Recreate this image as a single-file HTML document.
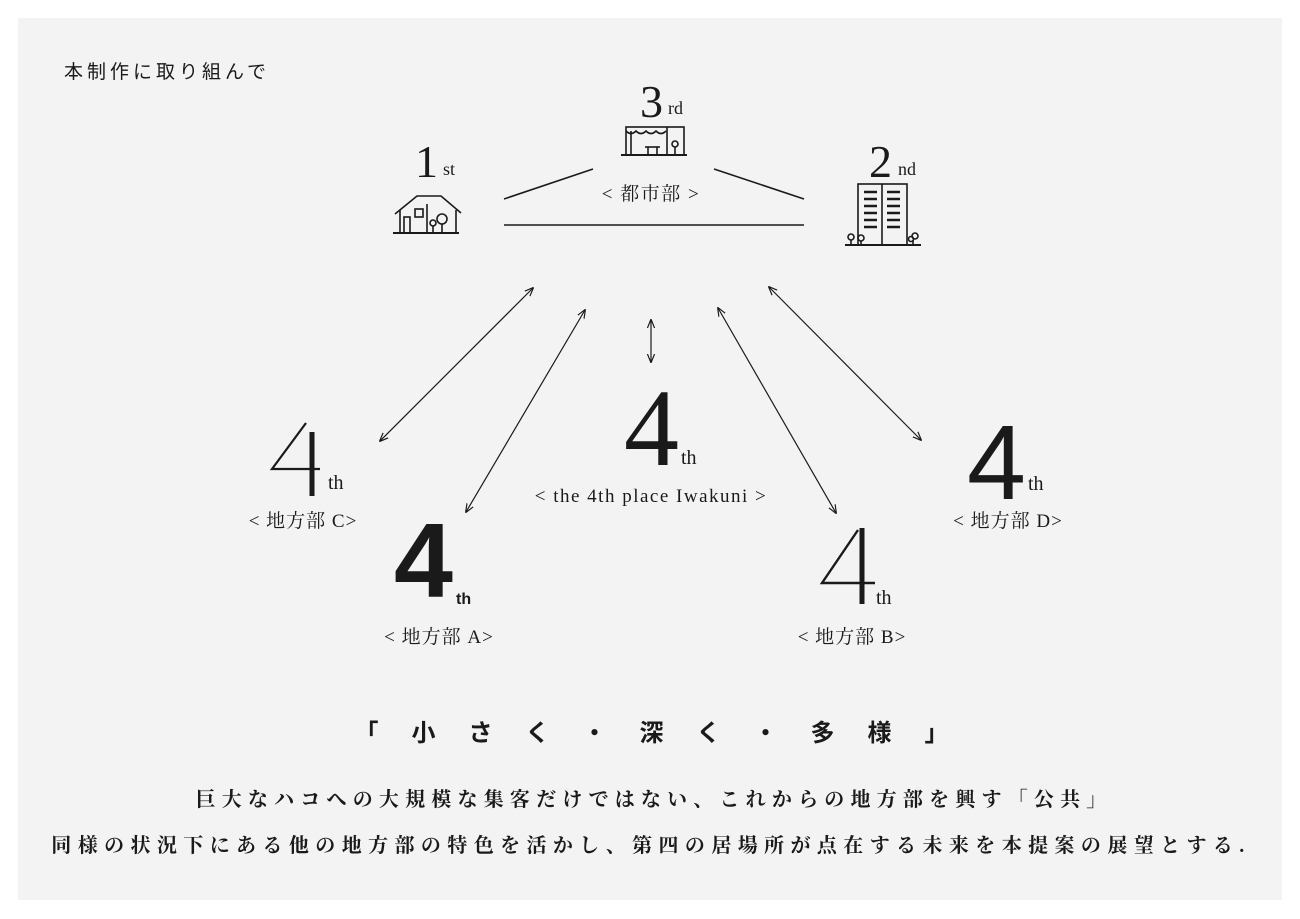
<!DOCTYPE html>
<html><head><meta charset="utf-8">
<style>
html,body{margin:0;padding:0;background:#fff;}
svg{display:block}
.s{font-family:"Liberation Serif","Noto Serif CJK JP",serif;fill:#1a1a1a}
.g{font-family:"Liberation Sans","Noto Sans CJK JP",sans-serif;fill:#1a1a1a}
</style></head><body>
<svg width="1300" height="919" viewBox="0 0 1300 919" xmlns="http://www.w3.org/2000/svg">
<defs>
<marker id="a" viewBox="0 0 10 10" refX="9" refY="5" markerWidth="9" markerHeight="9" orient="auto-start-reverse" markerUnits="userSpaceOnUse">
<path d="M0,1 L10,5 L0,9" fill="none" stroke="#1a1a1a" stroke-width="1.3"/>
</marker>
</defs>
<rect x="0" y="0" width="1300" height="919" fill="#fff"/>
<rect x="18" y="18" width="1264" height="882" fill="#f3f3f3"/>

<text x="64" y="78" class="g" font-size="19" letter-spacing="4">本制作に取り組んで</text>

<!-- top numbers -->
<text x="640" y="117" class="s" font-size="46">3</text>
<text x="668" y="114" class="s" font-size="18">rd</text>
<text x="415" y="177" class="s" font-size="46">1</text>
<text x="443" y="175" class="s" font-size="18">st</text>
<text x="869" y="177" class="s" font-size="46">2</text>
<text x="898" y="175" class="s" font-size="18">nd</text>

<!-- shop icon -->
<g fill="none" stroke="#1a1a1a" stroke-width="1.6">
<rect x="626" y="127" width="58" height="28"/>
<line x1="621" y1="155" x2="687" y2="155" stroke-width="2"/>
<path d="M626,131 q5,5 10,0 q5,5 10,0 q5,5 10,0 q5,5 10,0"/>
<line x1="631" y1="131" x2="631" y2="155"/><line x1="667" y1="127" x2="667" y2="155"/>
<line x1="645" y1="147" x2="660" y2="147"/><line x1="648" y1="147" x2="648" y2="155"/><line x1="657" y1="147" x2="657" y2="155"/>
<circle cx="675" cy="144" r="3"/><line x1="675" y1="147" x2="675" y2="155"/>
</g>
<!-- house icon -->
<g fill="none" stroke="#1a1a1a" stroke-width="1.6">
<path d="M395,214 L417,196 L441,196 L461,213"/>
<path d="M400,210 L400,233 M456,210 L456,233"/>
<line x1="393" y1="233" x2="459" y2="233" stroke-width="2"/>
<rect x="404" y="217" width="6" height="16"/>
<rect x="415" y="209" width="8" height="8"/>
<circle cx="442" cy="219" r="5"/><line x1="442" y1="224" x2="442" y2="233"/>
<circle cx="433" cy="223" r="3"/><line x1="433" y1="226" x2="433" y2="233"/>
<line x1="427" y1="204" x2="427" y2="233"/>
</g>
<!-- building icon -->
<g fill="none" stroke="#1a1a1a" stroke-width="1.6">
<rect x="858" y="184" width="49" height="61"/>
<line x1="882" y1="184" x2="882" y2="245"/>
<line x1="845" y1="245" x2="921" y2="245" stroke-width="2"/>
<circle cx="851" cy="237" r="3"/><line x1="851" y1="240" x2="851" y2="245"/>
<circle cx="861" cy="238" r="3"/><line x1="861" y1="241" x2="861" y2="245"/>
<circle cx="915" cy="236" r="3"/><circle cx="911" cy="239" r="2.5"/><line x1="913" y1="240" x2="913" y2="245"/>
</g>
<g stroke="#1a1a1a" stroke-width="2.5">
<line x1="864" y1="192" x2="877" y2="192"/><line x1="887" y1="192" x2="900" y2="192"/>
<line x1="864" y1="199" x2="877" y2="199"/><line x1="887" y1="199" x2="900" y2="199"/>
<line x1="864" y1="206" x2="877" y2="206"/><line x1="887" y1="206" x2="900" y2="206"/>
<line x1="864" y1="213" x2="877" y2="213"/><line x1="887" y1="213" x2="900" y2="213"/>
<line x1="864" y1="220" x2="877" y2="220"/><line x1="887" y1="220" x2="900" y2="220"/>
<line x1="864" y1="227" x2="877" y2="227"/><line x1="887" y1="227" x2="900" y2="227"/>
</g>

<!-- connecting lines -->
<g stroke="#1a1a1a" stroke-width="1.6">
<line x1="504" y1="199" x2="593" y2="169"/>
<line x1="714" y1="169" x2="804" y2="199"/>
<line x1="504" y1="225" x2="804" y2="225"/>
</g>
<text x="651" y="200" class="s" font-size="19" letter-spacing="1.5" text-anchor="middle">&lt; 都市部 &gt;</text>

<!-- arrows -->
<g stroke="#1a1a1a" stroke-width="1.2" marker-start="url(#a)" marker-end="url(#a)">
<line x1="533" y1="288" x2="380" y2="441"/>
<line x1="585" y1="310" x2="466" y2="512"/>
<line x1="651" y1="320" x2="651" y2="362"/>
<line x1="718" y1="308" x2="836" y2="513"/>
<line x1="769" y1="287" x2="921" y2="440"/>
</g>

<!-- center 4th -->
<text x="624" y="465" class="s" font-size="110">4</text>
<text x="681" y="464" class="s" font-size="20">th</text>
<text x="651" y="502" class="s" font-size="19" letter-spacing="1.5" text-anchor="middle">&lt; the 4th place Iwakuni &gt;</text>

<!-- C: thin geometric 4 -->
<path d="M306,423 L272,469 L320,469" fill="none" stroke="#1a1a1a" stroke-width="2.2"/>
<line x1="312" y1="432" x2="312" y2="496" stroke="#1a1a1a" stroke-width="5"/>
<text x="328" y="489" class="s" font-size="20">th</text>
<text x="303" y="527" class="s" font-size="19" letter-spacing="1" text-anchor="middle">&lt; 地方部 C&gt;</text>

<!-- A: bold 4 -->
<text x="394" y="597" class="g" font-size="106" font-weight="bold">4</text>
<text x="456" y="604" class="g" font-size="16" font-weight="bold">th</text>
<text x="439" y="643" class="s" font-size="19" letter-spacing="1" text-anchor="middle">&lt; 地方部 A&gt;</text>

<!-- B: thin 4 -->
<path d="M858,530 L822,583 L875,583" fill="none" stroke="#1a1a1a" stroke-width="2.4"/>
<line x1="862" y1="528" x2="862" y2="604" stroke="#1a1a1a" stroke-width="5"/>
<text x="876" y="604" class="s" font-size="20">th</text>
<text x="852" y="643" class="s" font-size="19" letter-spacing="1" text-anchor="middle">&lt; 地方部 B&gt;</text>

<!-- D: bold sans 4 -->
<text x="967" y="499" class="g" font-size="106">4</text>
<text x="1028" y="490" class="s" font-size="20">th</text>
<text x="1008" y="527" class="s" font-size="19" letter-spacing="1" text-anchor="middle">&lt; 地方部 D&gt;</text>

<!-- bottom text -->
<text x="668" y="741" class="g" font-size="24" font-weight="bold" text-anchor="middle" letter-spacing="33">「小さく・深く・多様」</text>
<text x="654" y="806" class="s" font-size="20" font-weight="bold" text-anchor="middle" letter-spacing="6.2">巨大なハコへの大規模な集客だけではない、これからの地方部を興す「公共」</text>
<text x="651" y="852" class="s" font-size="20" font-weight="bold" text-anchor="middle" letter-spacing="6.4">同様の状況下にある他の地方部の特色を活かし、第四の居場所が点在する未来を本提案の展望とする.</text>
</svg>
</body></html>
